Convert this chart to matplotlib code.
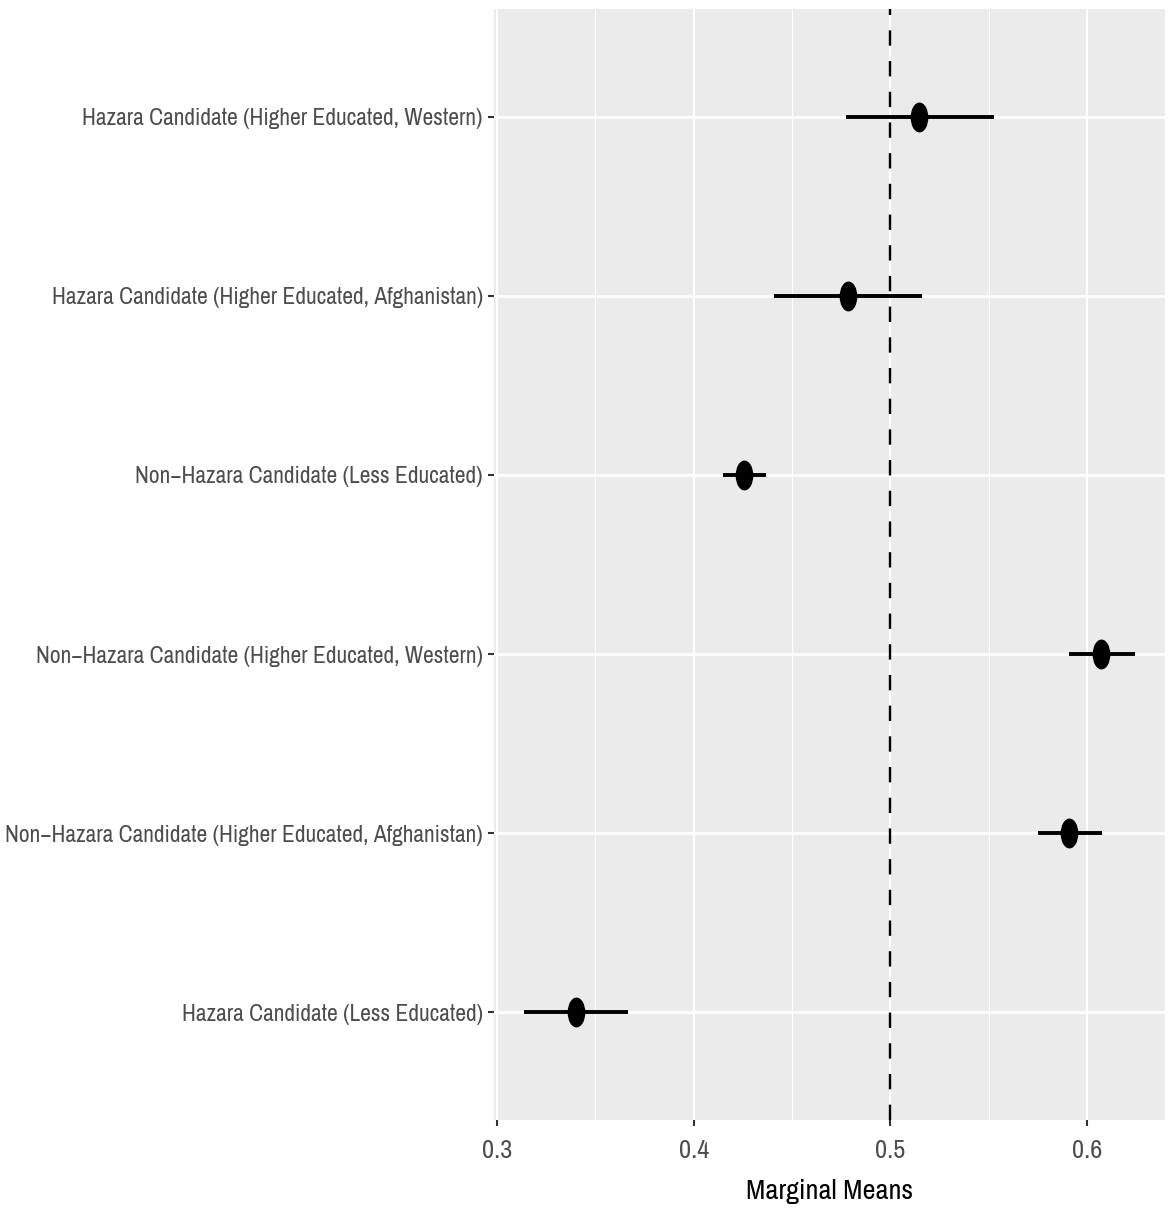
import matplotlib
matplotlib.use("Agg")
import matplotlib.pyplot as plt
from matplotlib.markers import MarkerStyle
from matplotlib.transforms import Affine2D
from matplotlib import font_manager

# data (bottom to top)
labels = [
    "Hazara Candidate (Less Educated)",
    "Non\u2212Hazara Candidate (Higher Educated, Afghanistan)",
    "Non\u2212Hazara Candidate (Higher Educated, Western)",
    "Non\u2212Hazara Candidate (Less Educated)",
    "Hazara Candidate (Higher Educated, Afghanistan)",
    "Hazara Candidate (Higher Educated, Western)",
]
estimate = [0.3402, 0.5908, 0.6070, 0.4256, 0.4785, 0.5145]
lower = [0.3137, 0.5750, 0.5908, 0.4149, 0.4408, 0.4774]
upper = [0.3666, 0.6076, 0.6244, 0.4368, 0.5161, 0.5527]
xticks = [0.3, 0.4, 0.5, 0.6]
xminor = [0.35, 0.45, 0.55]

# look for a narrow font, else shrink a normal one
narrow = None
for f in font_manager.fontManager.ttflist:
    n = f.name.lower()
    if "narrow" in n or "condensed" in n:
        narrow = (f.name, "normal")
        break
if narrow is None:
    for f in font_manager.fontManager.ttflist:
        if f.stretch in ("condensed", "semi-condensed") and f.style == "normal" and f.weight in (400, "normal"):
            narrow = (f.name, f.stretch)
            break
if narrow:
    fam, stretch = narrow
    lab_size, tick_size, x_size = 16.9, 19, 20.4
else:
    fam, stretch = "Liberation Sans", "normal"
    lab_size, tick_size, x_size = 14.1, 15, 17
plt.rcParams['font.family'] = [fam, 'DejaVu Sans']
plt.rcParams['font.stretch'] = stretch

W, H = 1169, 1216
fig = plt.figure(figsize=(W / 100, H / 100), dpi=100)
ax = fig.add_axes([494 / W, 1 - 1120 / H, (1165 - 494) / W, (1120 - 9) / H])
ax.set_facecolor("#EBEBEB")
for s in ax.spines.values():
    s.set_visible(False)

ypos = list(range(1, len(labels) + 1))
ax.set_xlim(0.2985, 0.6396)
ax.set_ylim(0.4, len(labels) + 0.6)

ax.set_xticks(xticks)
ax.set_xticklabels([str(t) for t in xticks], fontsize=tick_size)
ax.set_xticks(xminor, minor=True)
ax.set_yticks(ypos)
ax.set_yticklabels(labels, fontsize=lab_size)

ax.grid(True, which="major", axis="x", color="white", linewidth=1.5)
ax.grid(True, which="minor", axis="x", color="white", linewidth=0.75)
ax.grid(True, which="major", axis="y", color="white", linewidth=2.0)
ax.set_axisbelow(True)

ax.tick_params(axis="both", which="major", length=4, width=1.5, color="#333333",
               labelcolor="#4D4D4D", pad=4)
ax.tick_params(axis="x", which="major", pad=10)
ax.tick_params(axis="x", which="minor", length=0)

ax.axvline(0.5, color="black", linestyle=(0, (6.5, 6.5)), linewidth=1.7)

for y, lo, hi in zip(ypos, lower, upper):
    ax.plot([lo, hi], [y, y], color="black", linewidth=2.8, solid_capstyle="butt")

mk = MarkerStyle("o", transform=Affine2D().scale(0.57, 1.0))
ax.plot(estimate, ypos, linestyle="none", marker=mk, markersize=20.5, color="black")

ax.set_xlabel("Marginal Means", fontsize=x_size, color="black", labelpad=12)

fig.savefig("out.png", dpi=100)
